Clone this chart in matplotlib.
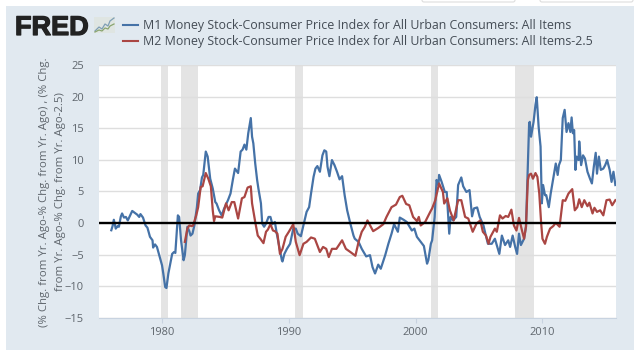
import matplotlib
matplotlib.use("Agg")
import matplotlib.pyplot as plt
import matplotlib.patheffects as pe
from matplotlib.patches import Rectangle, FancyBboxPatch

# values, decimal years
m1_years = [1976.0, 1976.1, 1976.2, 1976.35, 1976.5, 1976.6, 1976.75, 1976.85, 1977.0, 1977.15, 1977.3, 1977.65, 1977.85,
            1978.05, 1978.2, 1978.3, 1978.5, 1978.7, 1978.85, 1979.05, 1979.25, 1979.3, 1979.45, 1979.6, 1979.9, 1980.0,
            1980.1, 1980.25, 1980.35, 1980.5, 1980.7, 1980.8, 1980.95, 1981.05, 1981.25, 1981.35, 1981.5, 1981.7, 1981.8,
            1982.0, 1982.15, 1982.25, 1982.4, 1982.55, 1982.75, 1982.85, 1983.0, 1983.15, 1983.25, 1983.45, 1983.6, 1983.8,
            1984.0, 1984.2, 1984.3, 1984.5, 1984.7, 1984.9, 1985.2, 1985.4, 1985.6, 1985.75, 1986.0, 1986.2, 1986.35,
            1986.5, 1986.65, 1986.8, 1987.0, 1987.1, 1987.2, 1987.35, 1987.5, 1987.6, 1987.8, 1987.9, 1988.05, 1988.2,
            1988.4, 1988.55, 1988.7, 1988.9, 1989.05, 1989.25, 1989.45, 1989.5, 1989.65, 1989.85, 1990.1, 1990.35, 1990.55,
            1990.7, 1990.95, 1991.15, 1991.4, 1991.6, 1991.75, 1991.95, 1992.1, 1992.25, 1992.45, 1992.65, 1992.8, 1992.95,
            1993.05, 1993.2, 1993.4, 1993.6, 1993.8, 1994.0, 1994.2, 1994.4, 1994.6, 1994.85, 1995.1, 1995.2, 1995.5,
            1995.75, 1996.1, 1996.4, 1996.6, 1996.8, 1997.05, 1997.25, 1997.6, 1997.85, 1998.1, 1998.3, 1998.6, 1998.75,
            1999.05, 1999.3, 1999.7, 1999.9, 2000.1, 2000.4, 2000.65, 2000.9, 2001.0, 2001.2, 2001.3, 2001.5, 2001.65,
            2001.8, 2001.85, 2002.05, 2002.3, 2002.45, 2002.65, 2002.75, 2002.95, 2003.2, 2003.35, 2003.6, 2003.75, 2004.0,
            2004.25, 2004.45, 2004.6, 2004.85, 2005.05, 2005.35, 2005.5, 2005.7, 2006.0, 2006.25, 2006.6, 2006.8, 2007.05,
            2007.3, 2007.45, 2007.65, 2007.85, 2008.0, 2008.15, 2008.3, 2008.55, 2008.7, 2008.85, 2008.95, 2009.0, 2009.1,
            2009.3, 2009.45, 2009.55, 2009.7, 2009.85, 2009.95, 2010.05, 2010.2, 2010.3, 2010.5, 2010.65, 2010.85, 2011.05,
            2011.2, 2011.3, 2011.45, 2011.6, 2011.75, 2011.9, 2012.05, 2012.2, 2012.3, 2012.4, 2012.5, 2012.6, 2012.7,
            2012.85, 2012.9, 2013.05, 2013.2, 2013.35, 2013.55, 2013.75, 2013.9, 2014.05, 2014.2, 2014.3, 2014.45, 2014.6,
            2014.8, 2014.95, 2015.1, 2015.3, 2015.45, 2015.6, 2015.75]
m1_values = [-1.16, -0.5, 0.5, -0.9, -0.5, -0.6, 1.0, 1.5, 0.85, 0.95, 0.4, 1.9, 1.6,
             1.3, 0.95, 1.4, 0.85, -0.4, -0.75, -2.2, -2.75, -3.9, -3.4, -3.8, -6.0, -6.7,
             -8.0, -10.15, -10.3, -8.0, -5.9, -4.9, -4.6, -4.75, 1.2, 0.95, -2.75, -5.9, -5.1,
             -0.6, -1.3, -2.0, -1.7, -0.4, 2.5, 4.65, 5.2, 7.2, 7.6, 11.3, 10.5, 7.0,
             5.45, 3.3, 3.07, 2.0, 1.2, 2.3, 3.6, 4.65, 7.0, 8.6, 7.9, 11.3, 11.6,
             12.4, 11.6, 14.2, 16.6, 13.65, 12.6, 9.4, 6.8, 5.45, 3.1, -0.1, -0.6, -0.1,
             0.95, 0.95, -0.2, 0.15, -1.7, -3.8, -5.9, -6.1, -4.9, -4.1, -3.3, -0.9, -0.9,
             -1.7, -2.1, -0.4, 1.75, 2.5, 4.65, 7.3, 8.6, 9.0, 8.1, 10.7, 11.5, 11.3,
             8.9, 7.4, 9.95, 9.15, 8.1, 6.9, 7.4, 4.4, 2.0, -0.1, -2.0, -2.5, -3.0,
             -4.1, -5.3, -5.1, -7.0, -8.0, -6.6, -7.25, -5.1, -3.3, -1.7, -0.2, -1.4, 0.85,
             0.5, 0.15, -1.2, -0.9, -2.2, -3.0, -3.65, -6.45, -5.9, -3.3, -2.75, 0.95, 6.8,
             6.0, 7.6, 6.5, 4.9, 4.9, -1.7, 0.95, 0.4, 0.95, 6.0, 7.2, 5.8, 4.9,
             5.2, 1.05, 2.3, 2.45, 0.95, -0.4, -1.7, -3.3, -3.3, -2.5, -4.9, -2.0, -3.5,
             -2.75, -3.8, -2.0, -3.8, -4.9, -1.7, -3.5, -2.5, -0.6, 9.4, 15.8, 16.0, 13.65,
             16.0, 18.7, 19.9, 15.2, 12.1, 3.1, 6.0, 4.4, 4.4, 2.5, 4.65, 7.0, 9.4,
             7.6, 9.15, 9.95, 16.6, 17.9, 14.4, 15.8, 14.4, 16.7, 14.2, 14.7, 8.4, 10.5,
             9.95, 12.9, 9.15, 10.7, 10.2, 8.1, 7.0, 6.25, 8.9, 11.1, 7.8, 10.5, 8.4,
             8.6, 9.15, 9.95, 8.4, 6.5, 8.1, 6.0]

m2_years = [1981.8, 1982.0, 1982.15, 1982.35, 1982.45, 1982.7, 1982.85, 1983.05, 1983.2, 1983.45, 1983.65, 1983.85, 1984.0,
            1984.1, 1984.2, 1984.55, 1984.75, 1985.05, 1985.25, 1985.5, 1985.7, 1986.0, 1986.3, 1986.5, 1986.75, 1987.0,
            1987.1, 1987.35, 1987.55, 1987.75, 1988.0, 1988.2, 1988.35, 1988.55, 1988.75, 1988.9, 1989.1, 1989.3, 1989.5,
            1989.75, 1990.0, 1990.35, 1990.55, 1990.85, 1991.15, 1991.4, 1991.75, 1992.05, 1992.45, 1992.7, 1992.95, 1993.15,
            1993.4, 1993.75, 1994.2, 1994.5, 1994.85, 1995.25, 1995.5, 1995.75, 1996.0, 1996.2, 1996.65, 1997.05, 1997.45,
            1997.7, 1998.1, 1998.45, 1998.75, 1998.95, 1999.25, 1999.5, 1999.8, 2000.1, 2000.25, 2000.4, 2000.75, 2001.15,
            2001.3, 2001.55, 2001.85, 2002.15, 2002.25, 2002.5, 2002.7, 2003.0, 2003.35, 2003.6, 2003.9, 2004.15, 2004.5,
            2004.8, 2005.1, 2005.3, 2005.55, 2005.75, 2005.9, 2006.25, 2006.4, 2006.65, 2006.85, 2007.1, 2007.3, 2007.55,
            2007.75, 2007.95, 2008.15, 2008.35, 2008.55, 2008.7, 2008.85, 2008.95, 2009.1, 2009.25, 2009.45, 2009.6, 2009.75,
            2009.9, 2010.0, 2010.2, 2010.35, 2010.6, 2010.85, 2011.05, 2011.25, 2011.35, 2011.6, 2011.8, 2012.05, 2012.35,
            2012.55, 2012.75, 2012.9, 2013.1, 2013.3, 2013.55, 2013.7, 2013.95, 2014.1, 2014.3, 2014.55, 2014.8, 2015.05,
            2015.3, 2015.5, 2015.75]
m2_values = [-3.0, -0.9, -0.4, -0.5, -0.4, 1.2, 2.5, 5.7, 5.8, 7.9, 7.0, 5.8, 2.0,
             0.3, 1.05, 0.95, 0.85, 3.1, 2.0, 3.3, 3.3, 0.7, 3.9, 4.1, 5.6, 5.8,
             3.1, 0.15, -2.0, -2.5, -3.2, -1.4, -1.05, -0.2, -1.2, -1.3, -1.7, -4.9, -4.1,
             -2.2, -1.4, -0.2, -3.0, -5.1, -3.3, -3.0, -2.3, -2.5, -4.6, -3.8, -4.1, -5.4,
             -4.1, -4.1, -2.75, -4.1, -4.6, -5.2, -3.0, -1.4, -0.6, 0.4, -1.3, -0.8, -0.2,
             0.95, 2.5, 2.9, 4.1, 4.3, 3.0, 2.8, 0.95, 0.3, 0.95, -0.4, 0.15, 1.75,
             2.3, 3.6, 6.25, 4.9, 3.07, 3.9, 2.0, 0.4, 3.6, 3.6, 0.95, 0.7, -1.4,
             -0.1, 0.4, -1.4, -2.0, -3.3, -2.2, -0.9, -1.4, 1.2, 0.7, 1.1, 0.95, 2.1,
             -0.4, -1.2, 0.8, -0.9, -2.5, -0.6, 6.8, 7.6, 7.8, 7.0, 7.9, 7.3, 4.65,
             -0.1, -2.5, -3.3, -2.2, -0.9, -0.5, 0.0, -0.4, -0.6, 3.6, 3.5, 4.65, 5.35,
             2.0, 2.5, 3.75, 2.5, 3.6, 2.65, 3.2, 1.5, 2.4, 1.75, 2.0, 1.2, 3.6,
             3.7, 2.8, 3.6]

recessions = [(1979.95, 1980.45), (1981.5, 1982.8), (1990.5, 1991.15), (2001.2, 2001.8), (2007.85, 2009.35)]
y_ticks = [-15, -10, -5, 0, 5, 10, 15, 20, 25]
x_ticks = [1980, 1990, 2000, 2010]
m1_label = "M1 Money Stock-Consumer Price Index for All Urban Consumers: All Items"
m2_label = "M2 Money Stock-Consumer Price Index for All Urban Consumers: All Items-2.5"
y_label_1 = "(% Chg. from Yr. Ago-% Chg. from Yr. Ago) , (% Chg."
y_label_2 = "from Yr. Ago-% Chg. from Yr. Ago-2.5)"

plt.rcParams['font.family'] = ['Open Sans', 'DejaVu Sans']
BLUE = '#4572a7'
RED = '#aa4643'
TXT = '#5f666d'
W, H = 640, 350

fig = plt.figure(figsize=(6.4, 3.5), dpi=100, facecolor='white')

# page furniture in pixel coords
bg = fig.add_axes([0, 0, 1, 1], zorder=0)
bg.set_xlim(0, W)
bg.set_ylim(H, 0)
bg.axis('off')
bg.add_patch(Rectangle((6, 6), 628, 344, fc='#e1e9f0', ec='none'))
for x0, x1 in [(422, 515), (540, 633)]:   # bottoms of the buttons cut off at the top edge
    bg.add_patch(FancyBboxPatch((x0, -6), x1 - x0, 8, boxstyle='round,pad=0,rounding_size=2',
                                fc='white', ec='#dddddd', lw=0.8))

# FRED logo
bg.text(15, 35, "FRED", family='Liberation Sans', weight='bold', fontsize=19.5, color='#222222', va='baseline',
        path_effects=[pe.withStroke(linewidth=0.9, foreground='#222222')])
bg.add_patch(Rectangle((94, 17), 21, 16, fc='#dfe5e2', ec='none'))
bg.plot([95, 99, 102, 105, 108, 110, 114], [31, 27, 29, 24, 26, 21, 18], color='#7f9fb5', lw=0.9)
bg.plot([95, 99, 102, 105, 108, 110, 114], [32, 30, 31, 28, 29, 26, 24], color='#8aa56f', lw=0.9)

# legend
bg.plot([123, 138], [25, 25], color=BLUE, lw=1.5)
bg.plot([123, 138], [41, 41], color=RED, lw=1.5)
bg.text(143, 25, m1_label, fontsize=8.9, color='#444c55', va='center', fontweight='medium')
bg.text(143, 41, m2_label, fontsize=8.9, color='#444c55', va='center', fontweight='medium')

# axis title, two rotated lines
bg.text(45, 192, y_label_1, fontsize=8.2, color=TXT, rotation=90, ha='center', va='center')
bg.text(61, 192, y_label_2, fontsize=8.2, color=TXT, rotation=90, ha='center', va='center')

# the chart itself
ax = fig.add_axes([99 / W, 1 - 317.7 / H, (616 - 99) / W, (317.7 - 65) / H], zorder=1)
ax.set_xlim(1975.03, 2015.8)
ax.set_ylim(-15, 25)
ax.set_facecolor('white')
for a, b in recessions:
    ax.axvspan(a, b, color='#e4e4e4', lw=0, zorder=1)
ax.grid(axis='y', color='#dedede', lw=1)
for g in ax.get_ygridlines():
    g.set_zorder(0.5)
ax.plot(m1_years, m1_values, color=BLUE, lw=1.6, zorder=3, solid_joinstyle='round')
ax.plot(m2_years, m2_values, color=RED, lw=1.6, zorder=4, solid_joinstyle='round')
ax.axhline(0, color='black', lw=1.7, zorder=5)

ax.set_yticks(y_ticks)
ax.set_xticks(x_ticks)
ax.tick_params(axis='y', length=0, labelsize=8, labelcolor=TXT, pad=10.8)
ax.tick_params(axis='x', length=3.5, width=0.8, color='#c8d3e0', labelsize=8, labelcolor=TXT, pad=3.5, direction='out')
for s in ['top', 'left', 'right']:
    ax.spines[s].set_visible(False)
ax.spines['bottom'].set_color('#c8d3e0')

fig.savefig("out.png", dpi=100)
